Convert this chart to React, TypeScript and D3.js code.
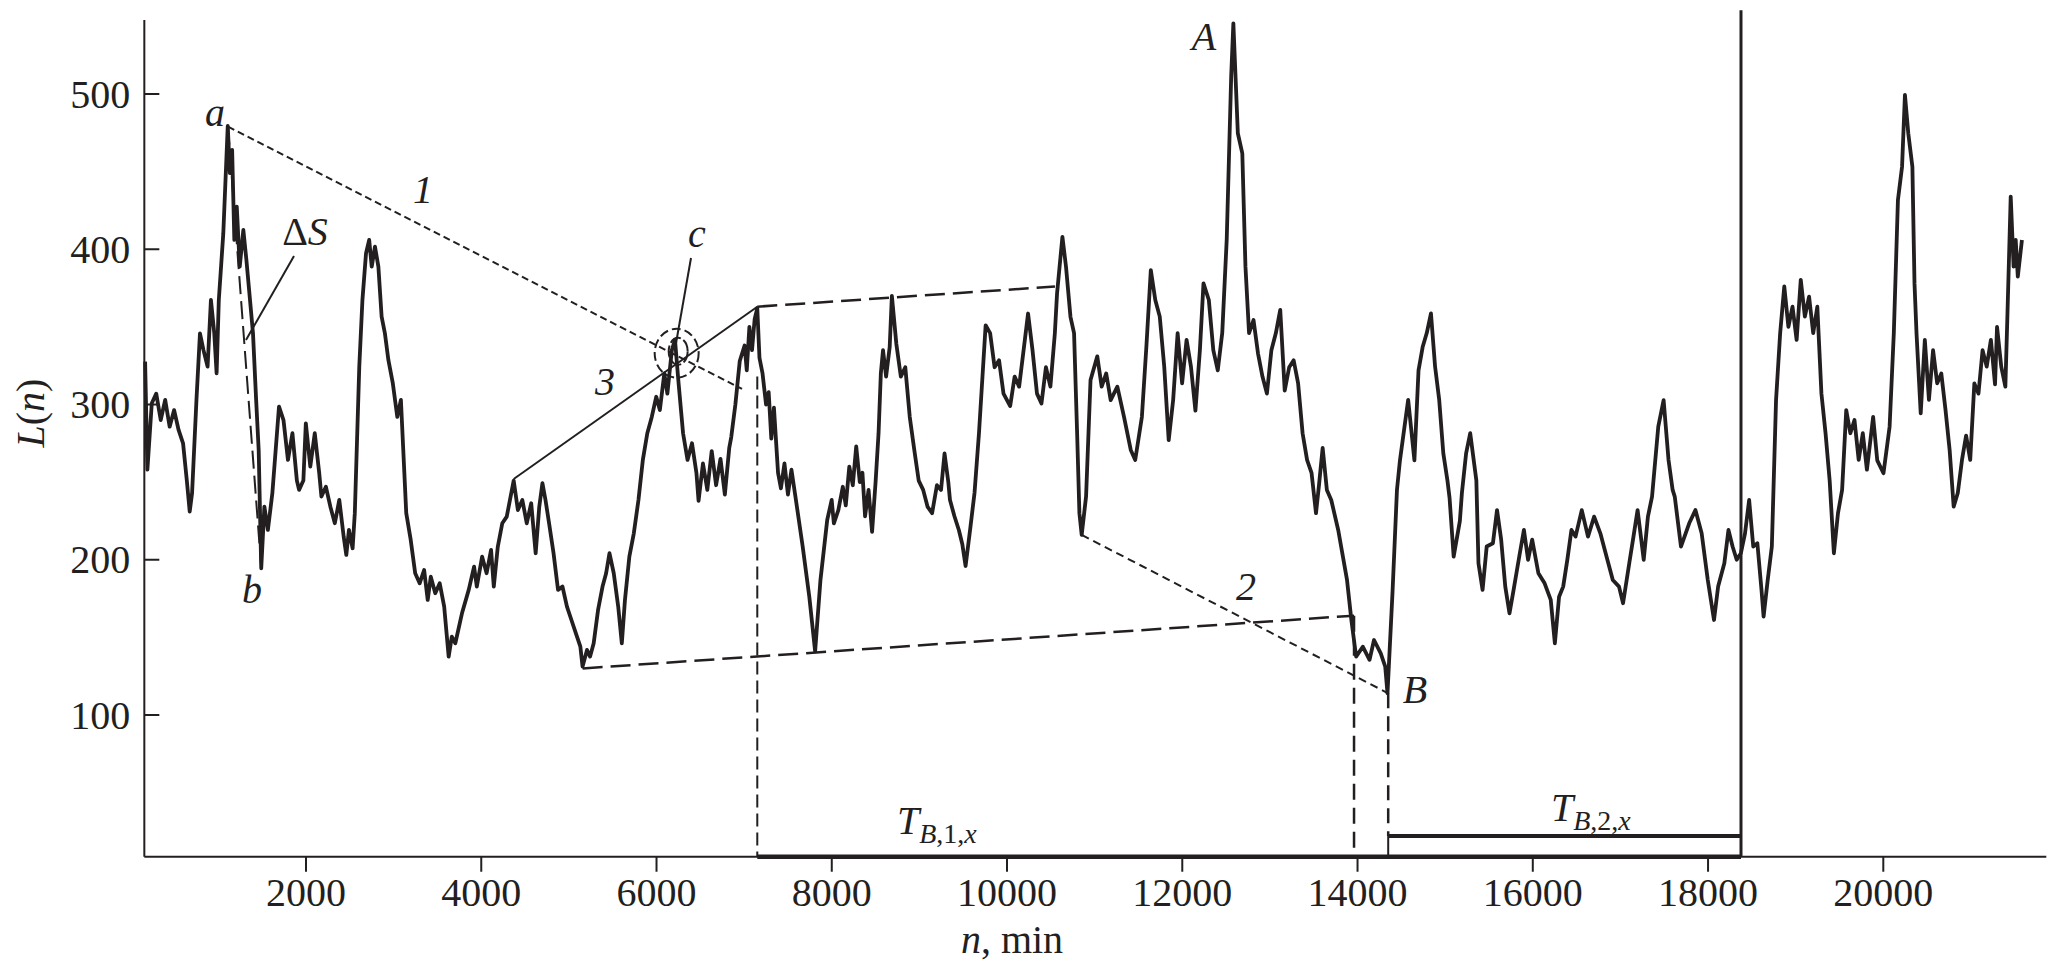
import React from "react";
import * as d3 from "d3";

// ---- Data (n in minutes, L(n)) ----
const minutes = [
  164, 190, 240, 291, 342, 393, 444, 495, 546, 597, 640, 673, 700, 750, 790, 830, 877, 915, 953, 980, 1005, 1056, 1107,
  1131, 1157, 1182, 1210, 1244, 1285, 1320, 1361, 1395, 1431, 1460, 1489, 1525, 1565, 1616, 1692, 1743, 1794, 1845, 1896,
  1921, 1970, 1998, 2049, 2100, 2151, 2176, 2227, 2278, 2329, 2380, 2430, 2460, 2490, 2532, 2557, 2608, 2644, 2685, 2721,
  2750, 2787, 2826, 2863, 2900, 2940, 2991, 3042, 3083, 3110, 3144, 3195, 3246, 3297, 3348, 3389, 3424, 3475, 3526, 3577,
  3628, 3664, 3704, 3780, 3857, 3918, 3949, 4010, 4061, 4112, 4143, 4189, 4240, 4291, 4342, 4370, 4418, 4469, 4519, 4570,
  4621, 4662, 4698, 4733, 4774, 4825, 4876, 4927, 4978, 5029, 5080, 5131, 5156, 5207, 5242, 5283, 5333, 5384, 5425, 5463,
  5512, 5563, 5604, 5640, 5690, 5741, 5794, 5844, 5895, 5946, 5997, 6038, 6089, 6124, 6175, 6211, 6252, 6303, 6354, 6405,
  6456, 6480, 6530, 6580, 6630, 6680, 6730, 6780, 6830, 6853, 6900, 6950, 7005, 7030, 7060, 7090, 7120, 7150, 7175, 7210,
  7250, 7280, 7310, 7340, 7387, 7420, 7460, 7500, 7540, 7591, 7668, 7744, 7810, 7871, 7948, 7999, 8024, 8075, 8126, 8160,
  8200, 8240, 8279, 8320, 8350, 8380, 8420, 8460, 8500, 8534, 8560, 8585, 8620, 8661, 8686, 8737, 8788, 8839, 8890, 8941,
  8992, 9043, 9094, 9145, 9200, 9247, 9287, 9330, 9349, 9400, 9451, 9490, 9527, 9578, 9629, 9680, 9756, 9807, 9858, 9909,
  9960, 10036, 10087, 10138, 10189, 10240, 10291, 10342, 10393, 10444, 10495, 10546, 10571, 10632, 10673, 10724, 10765,
  10800, 10826, 10852, 10902, 10953, 11030, 11080, 11132, 11183, 11259, 11335, 11412, 11463, 11539, 11590, 11641, 11692,
  11743, 11794, 11845, 11896, 11947, 11998, 12049, 12099, 12150, 12201, 12242, 12303, 12354, 12405, 12456, 12507, 12558,
  12583, 12634, 12685, 12721, 12762, 12813, 12864, 12915, 12966, 13017, 13068, 13118, 13169, 13220, 13271, 13322, 13373,
  13424, 13475, 13526, 13560, 13602, 13650, 13700, 13780, 13880, 13930, 13984, 14060, 14137, 14188, 14265, 14316, 14342,
  14400, 14450, 14484, 14531, 14578, 14649, 14696, 14743, 14790, 14838, 14885, 14932, 14979, 15026, 15050, 15097, 15168,
  15191, 15239, 15286, 15333, 15356, 15380, 15427, 15474, 15545, 15592, 15639, 15686, 15734, 15781, 15852, 15899, 15946,
  15993, 16064, 16135, 16205, 16252, 16300, 16347, 16394, 16441, 16488, 16559, 16630, 16700, 16771, 16842, 16913, 16984,
  17030, 17101, 17149, 17196, 17266, 17314, 17361, 17432, 17493, 17549, 17596, 17620, 17691, 17785, 17856, 17927, 17997,
  18068, 18115, 18186, 18233, 18280, 18327, 18375, 18422, 18469, 18516, 18563, 18610, 18634, 18681, 18728, 18776, 18823,
  18870, 18917, 18964, 19011, 19058, 19105, 19153, 19200, 19247, 19294, 19341, 19388, 19436, 19483, 19530, 19577, 19624,
  19671, 19719, 19766, 19813, 19884, 19931, 20002, 20072, 20120, 20167, 20214, 20247, 20285, 20332, 20356, 20379, 20427,
  20474, 20521, 20568, 20615, 20662, 20710, 20757, 20803, 20850, 20898, 20945, 20992, 21039, 21086, 21133, 21180, 21228,
  21275, 21298, 21346, 21393, 21416, 21454, 21487, 21511, 21535, 21582,
];

const levels = [
  327.6, 258, 300.8, 307, 290, 303, 285.7, 296.4, 283.6, 275, 251, 231, 243, 303, 345.8, 335, 324.4, 367.3, 346, 320, 367.3, 410, 479.4,
  449, 464, 406, 427.4, 388.8, 412.4, 393, 367.3, 346, 303, 270.7, 194.5, 234.2, 219.2, 242.8, 298.6, 290, 264.3, 281.5, 251,
  245, 251, 287.9, 260, 281.5, 255.7, 240.7, 247, 234.2, 223.5, 238.5, 214.9, 203.1, 219.2, 207.4, 230, 324.4, 367.3, 397.4, 406,
  388.8, 401.7, 388.8, 356.6, 346, 328.7, 313.6, 292, 303, 270.7, 230, 212.8, 191.3, 184.8, 193.4, 174.1, 189.1, 178.4, 184.8, 169.8,
  137.6, 150.5, 146.2, 165.5, 180.6, 195.6, 182.7, 202, 191.3, 206.3, 182.7, 208.5, 223.5, 227.8, 242.8, 251, 232, 238.5, 223.5, 236.4,
  204.2, 234.2, 249.3, 238.5, 223.5, 204.2, 180.6, 182.7, 169.8, 161.2, 152.6, 144, 131.2, 141.9, 137.6, 146.2, 167.7, 182.7, 191.3, 204.2,
  191.3, 169.8, 146.2, 174.1, 202, 217, 238.5, 264.3, 281.5, 292, 305, 296.4, 320, 307, 335, 341.6, 313.6, 281.5, 264.3, 275,
  255.7, 238, 262, 245, 270, 248, 265, 242, 272, 279, 300, 328, 338, 322, 350, 335, 355, 362, 330, 320,
  300, 308, 278, 298, 256, 246, 262, 242, 258, 238.5, 208.5, 176, 141, 187, 225.6, 238.5, 223.5, 232, 247, 235,
  260, 248, 273, 250, 256, 228, 245, 218, 250, 281.5, 320, 335, 318, 337, 370, 339, 318, 324, 292, 271,
  251, 245, 234, 230, 248, 245, 268.5, 250, 238.5, 228, 219, 210, 196, 219, 243, 281.5, 351, 346, 324, 328.5,
  307, 299, 318, 311.5, 335, 358.6, 335, 307, 300.7, 324, 311.5, 346, 371.6, 408, 388.8, 356.5, 346,
  281.5, 230, 216, 240.7, 315.8, 331, 311.5, 320, 302.8, 311.5, 292, 270.7, 264.3, 292, 337, 386.6, 367.3,
  356.6, 324.4, 277, 303, 346, 313.6, 341.6, 324.4, 296, 335, 378, 367.3, 335, 322, 346, 406, 511,
  545.5, 474.7, 461.8, 388.8, 346, 354.4, 333, 318, 307, 335, 346, 361, 309, 324, 328.5, 313.6, 281.5,
  264.3, 256, 230, 248, 272, 245, 238.5, 219, 187, 161, 137.6, 144, 135.5, 148.3, 139.7, 131.2, 114,
  180, 245, 264, 283.6, 303, 264, 322, 337, 346, 358.7, 324.4, 303, 268.5, 251, 240, 202, 225,
  243, 268.5, 281.5, 261, 251, 197.7, 180.6, 208.5, 210.6, 232, 213, 182.7, 165.5, 180.6, 204.2, 219.2, 200,
  213, 191.3, 184.8, 174.1, 146.2, 176.2, 182.7, 199.9, 219.2, 214.9, 232, 214.9, 227.8, 217, 202, 187, 182.7,
  172, 197.7, 214.9, 232, 200, 227.8, 240.7, 285.7, 302.8, 264.3, 245, 240.7, 208.5, 223.5, 232, 217, 187,
  161.2, 182.7, 197.7, 219.2, 208.5, 200, 204.2, 217, 238.5, 208.5, 210.6, 180.6, 163.4, 187, 208.5, 302.8, 346,
  376, 350, 363, 341.6, 380.3, 356.6, 369.5, 346, 363, 307, 281.5, 251, 204.2, 230, 245, 296.4, 281.5,
  290, 264.3, 281.5, 258, 292, 264, 255.7, 285.7, 346, 431.7, 453.2, 499.4, 474.7, 453.2, 378, 346, 294.3,
  341.6, 303, 335, 313.6, 320, 296.4, 270.7, 234.2, 243, 264.3, 280, 264.3, 313.6, 307, 335, 324.4, 341.6,
  313, 350, 324.4, 311.5, 356.6, 433.9, 388.8, 406, 382.4, 406,
];

const xTicks = [2000, 4000, 6000, 8000, 10000, 12000, 14000, 16000, 18000, 20000];
const yTicks = [100, 200, 300, 400, 500];

// annotation geometry in data units [n, L]
const line1 = [[1110, 479], [6976, 310]];
const chordAB = [[1110, 479], [1489, 195]];
const line3 = [[4370, 252], [7150, 363]];
const upperEnvelope = [[7150, 363], [10547, 376]];
const lowerEnvelope = [[5157, 130], [13960, 164]];
const line2 = [[10852, 216], [14350, 114]];
const circleC = [6230, 333];

const X_START = 155;
const X_END = 21860;
const Y_BOTTOM = 8.7;
const Y_TOP = 547.7;
const T1_START = 7150;
const T2_START = 14350;
const T_END = 18376;
const T2_LEVEL = 22.1;
const VLINE_TOP = 554;
const V1_TOP = 318;

const INK = "#231f20";
const FONT = "Liberation Serif";

export default function App() {
  const x = d3.scaleLinear().domain([2000, 20000]).range([306, 1883.3]);
  const y = d3.scaleLinear().domain([100, 500]).range([715, 94]);

  const pts = minutes.map((n, i) => [n, levels[i]] as [number, number]);
  const line = d3
    .line<[number, number]>()
    .x((d) => x(d[0]))
    .y((d) => y(d[1]));

  const seg = (p: number[][], props: any, key: string) => (
    <line key={key} x1={x(p[0][0])} y1={y(p[0][1])} x2={x(p[1][0])} y2={y(p[1][1])} {...props} />
  );

  const x0 = x(X_START);
  const yb = y(Y_BOTTOM);
  const fs = 40;
  const sub = 28;

  return (
    <svg
      width={2048}
      height={969}
      fontFamily={FONT}
      style={{ position: "absolute", left: 0, top: 0, background: "#fff" }}
    >
      <rect width={2048} height={969} fill="#fff" />
      {/* axes */}
      <line x1={x0} y1={y(Y_TOP)} x2={x0} y2={yb} stroke={INK} strokeWidth={2} />
      <line x1={x0} y1={yb} x2={x(X_END)} y2={yb} stroke={INK} strokeWidth={2} />
      {yTicks.map((t) => (
        <g key={"yt" + t}>
          <line x1={x0} x2={x0 + 15} y1={y(t)} y2={y(t)} stroke={INK} strokeWidth={2} />
          <text x={x0 - 14} y={y(t) + 13.5} textAnchor="end" fontSize={fs} fill={INK}>
            {t}
          </text>
        </g>
      ))}
      {xTicks.map((t) => (
        <g key={"xt" + t}>
          <line x1={x(t)} x2={x(t)} y1={yb} y2={yb + 15} stroke={INK} strokeWidth={2} />
          <text x={x(t)} y={906} textAnchor="middle" fontSize={fs} fill={INK}>
            {t}
          </text>
        </g>
      ))}
      {/* axis titles */}
      <text transform="translate(44,413) rotate(-90)" textAnchor="middle" fontSize={fs} fill={INK}>
        <tspan fontStyle="italic">L</tspan>(<tspan fontStyle="italic">n</tspan>)
      </text>
      <text x={1012} y={953} textAnchor="middle" fontSize={fs} fill={INK}>
        <tspan fontStyle="italic">n</tspan>, min
      </text>

      {/* main series */}
      <path d={line(pts) || ""} fill="none" stroke={INK} strokeWidth={3.8} strokeLinejoin="round" />

      {/* construction lines */}
      {seg(line1, { stroke: INK, strokeWidth: 2, strokeDasharray: "7 4" }, "l1")}
      {seg(chordAB, { stroke: INK, strokeWidth: 2, strokeDasharray: "18 7" }, "ab")}
      {seg(line3, { stroke: INK, strokeWidth: 2 }, "l3")}
      {seg(upperEnvelope, { stroke: INK, strokeWidth: 2.5, strokeDasharray: "20 8" }, "ue")}
      {seg(lowerEnvelope, { stroke: INK, strokeWidth: 2.5, strokeDasharray: "20 8" }, "le")}
      {seg(line2, { stroke: INK, strokeWidth: 2, strokeDasharray: "8 5" }, "l2")}

      {/* vertical markers */}
      <line x1={x(T1_START)} x2={x(T1_START)} y1={y(V1_TOP)} y2={yb} stroke={INK} strokeWidth={2} strokeDasharray="13 6" />
      <line x1={x(lowerEnvelope[1][0])} x2={x(lowerEnvelope[1][0])} y1={y(lowerEnvelope[1][1])} y2={yb} stroke={INK} strokeWidth={2.5} strokeDasharray="16 8" />
      <line x1={x(T2_START)} x2={x(T2_START)} y1={y(line2[1][1])} y2={y(T2_LEVEL)} stroke={INK} strokeWidth={2.5} strokeDasharray="15 8" />
      <line x1={x(T2_START)} x2={x(T2_START)} y1={y(T2_LEVEL)} y2={yb} stroke={INK} strokeWidth={2} />
      <line x1={x(T_END)} x2={x(T_END)} y1={y(VLINE_TOP)} y2={yb} stroke={INK} strokeWidth={3} />

      {/* T intervals */}
      <line x1={x(T1_START)} x2={x(T_END)} y1={yb} y2={yb} stroke={INK} strokeWidth={4.5} />
      <line x1={x(T2_START)} x2={x(T_END)} y1={y(T2_LEVEL)} y2={y(T2_LEVEL)} stroke={INK} strokeWidth={4} />

      {/* circle around c */}
      <ellipse cx={x(circleC[0])} cy={y(circleC[1])} rx={22} ry={24.5} fill="none" stroke={INK} strokeWidth={2} strokeDasharray="9 4" />
      <ellipse cx={x(circleC[0]) + 1.5} cy={y(circleC[1]) - 2} rx={9.5} ry={13.5} fill="none" stroke={INK} strokeWidth={2} strokeDasharray="12 3" />
      <line x1={x(circleC[0]) - 1} y1={y(circleC[1]) - 8} x2={691} y2={258} stroke={INK} strokeWidth={2} />
      {/* ΔS leader */}
      <line x1={294} y1={256} x2={246} y2={340} stroke={INK} strokeWidth={2} />

      {/* labels */}
      <g fontSize={fs} fill={INK} fontStyle="italic" textAnchor="middle">
        <text x={x(962)} y={y(479.4)}>a</text>
        <text x={x(1384)} y={y(172)}>b</text>
        <text x={x(6462)} y={247}>c</text>
        <text x={x(3335)} y={y(429.8)}>1</text>
        <text x={x(5412)} y={y(306)}>3</text>
        <text x={x(12727)} y={y(174)}>2</text>
        <text x={x(12248)} y={y(528.3)}>A</text>
        <text x={x(14655)} y={y(108)}>B</text>
      </g>
      <text x={305} y={245} fontSize={fs} fill={INK} textAnchor="middle">
        Δ<tspan fontStyle="italic">S</tspan>
      </text>
      <text x={897} y={834} fontSize={fs} fill={INK}>
        <tspan fontStyle="italic">T</tspan>
        <tspan fontSize={sub} dy={9} fontStyle="italic">B</tspan>
        <tspan fontSize={sub}>,1,</tspan>
        <tspan fontSize={sub} fontStyle="italic">x</tspan>
      </text>
      <text x={1551} y={821} fontSize={fs} fill={INK}>
        <tspan fontStyle="italic">T</tspan>
        <tspan fontSize={sub} dy={9} fontStyle="italic">B</tspan>
        <tspan fontSize={sub}>,2,</tspan>
        <tspan fontSize={sub} fontStyle="italic">x</tspan>
      </text>
    </svg>
  );
}
